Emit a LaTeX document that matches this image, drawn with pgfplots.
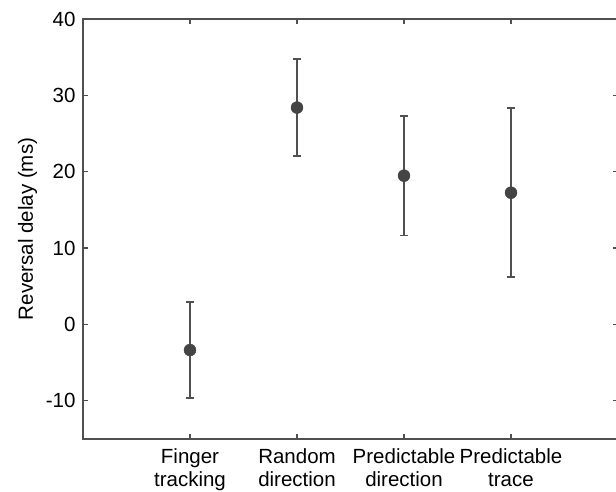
\documentclass[border=0pt]{standalone}
\usepackage{pgfplots}
\pgfplotsset{compat=1.18}
\usepackage{fontspec}
\setmainfont{Liberation Sans}
\definecolor{axisgray}{HTML}{505050}
\definecolor{markgray}{HTML}{444444}

% mean reversal delay and half-width of the error bar, per condition
\pgfplotstableread{
x   y      e
1  -3.35   6.32
2  28.40   6.33
3  19.48   7.82
4  17.25  11.05
}\delaydata

\begin{document}
\begin{tikzpicture}[x=1pt,y=1pt]
\begin{axis}[
  at={(0,0)}, anchor=south west,
  scale only axis, width=535pt, height=420pt,
  xmin=0, xmax=5, ymin=-15, ymax=40,
  xtick={1,2,3,4},
  xticklabels={{Finger\\tracking},{Random\\direction},{Predictable\\direction},{Predictable\\trace}},
  ytick={-10,0,...,40},
  tick align=inside,
  major tick length=5pt,
  axis line style={axisgray, line width=1.3pt},
  every tick/.style={axisgray, line width=1.3pt},
  font=\fontsize{20.5}{23}\selectfont,
  xticklabel style={align=center, font=\fontsize{20.5}{23}\selectfont, yshift=-6pt},
  yticklabel style={xshift=-4pt},
  /pgf/number format/assume math mode=true,
  ylabel={Reversal delay (ms)},
  ylabel style={at={(axis description cs:-0.0935,0.5)}, anchor=base},
]
\addplot[only marks, mark=*, mark size=6pt, color=markgray,
  error bars/.cd, y dir=both, y explicit,
  error bar style={line width=1.8pt, color=axisgray},
  error mark options={rotate=90, mark size=4pt, line width=1.8pt, color=axisgray}]
  table[x=x, y=y, y error=e] {\delaydata};
\end{axis}
\pgfresetboundingbox
\path[use as bounding box] (-83pt,-53pt) rectangle (533pt,439pt);
\end{tikzpicture}
\end{document}
